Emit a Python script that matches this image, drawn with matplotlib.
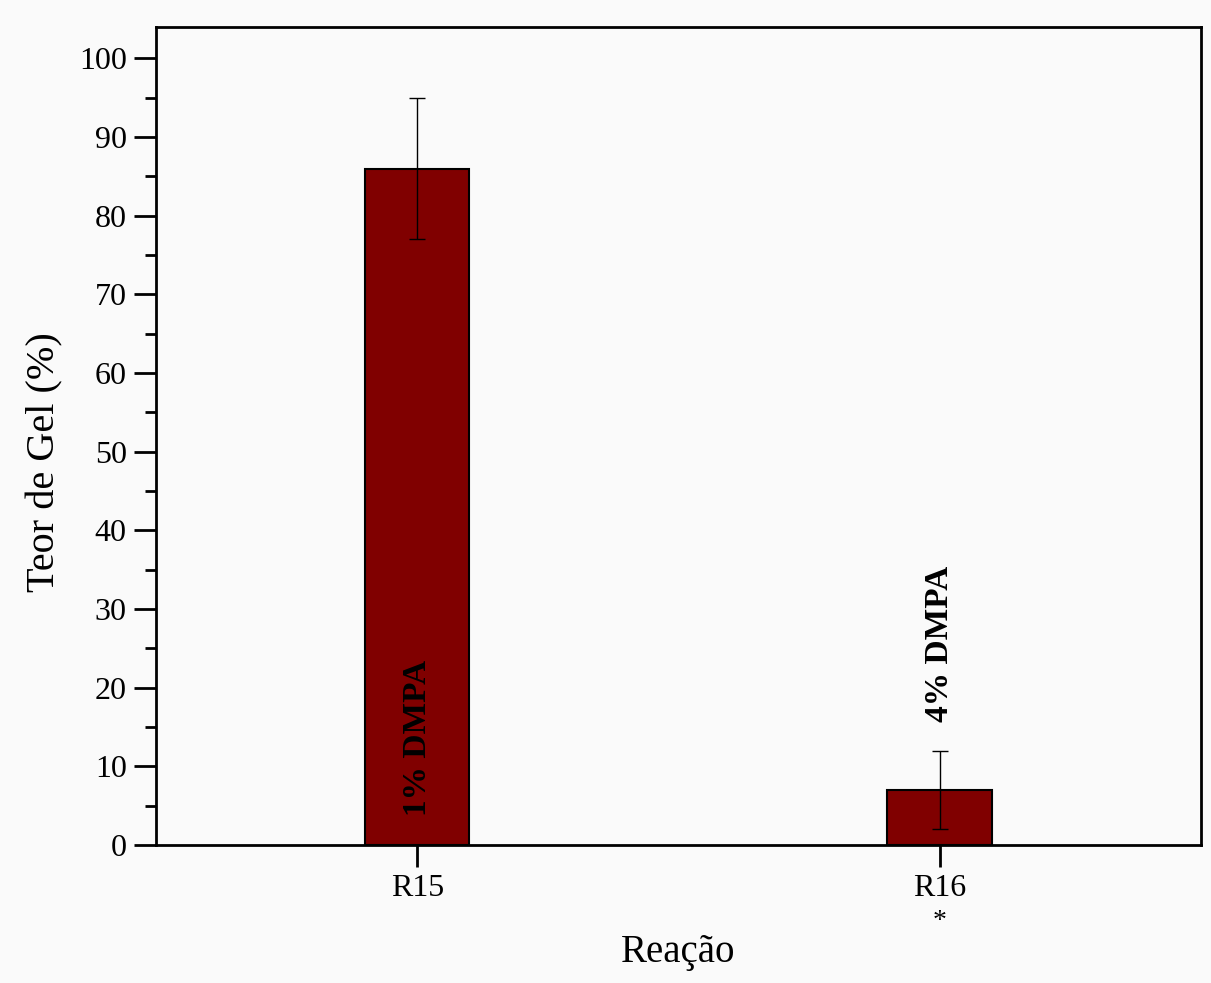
import numpy as np
import matplotlib.pyplot as plt
from matplotlib.ticker import MultipleLocator

# data
reacoes = ['R15', 'R16']
teor_gel = [86, 7]
erro = [9, 5]
notas = ['1% DMPA', '4% DMPA']

plt.rcParams['font.family'] = ['Liberation Serif', 'DejaVu Serif']
bg = '#fafafa'

fig = plt.figure(figsize=(12.11, 9.83), dpi=100, facecolor=bg)
ax = fig.add_axes([0.1288, 0.1404, 0.8629, 0.8321], facecolor=bg)

x = np.arange(1, len(reacoes) + 1)
ax.bar(x, teor_gel, width=0.2, color='#800000', edgecolor='black', linewidth=1.5, zorder=2)
ax.errorbar(x, teor_gel, yerr=erro, fmt='none', ecolor='black', elinewidth=1,
            capsize=6, capthick=1, zorder=3)

# labels on the bars
ax.text(x[0], 3.7, notas[0], rotation=90, ha='center', va='bottom',
        fontsize=24, fontweight='bold', zorder=4)
ax.text(x[1], teor_gel[1] + erro[1] + 3.65, notas[1], rotation=90, ha='center', va='bottom',
        fontsize=24, fontweight='bold', zorder=4)

ax.set_xlim(0.5, 2.5)
ax.set_ylim(0, 104)
ax.set_xticks(x)
ax.set_xticklabels(reacoes)
ax.yaxis.set_major_locator(MultipleLocator(10))
ax.yaxis.set_minor_locator(MultipleLocator(5))
ax.set_yticks(np.arange(0, 101, 10))
ax.tick_params(axis='y', which='major', direction='out', length=16, width=2, labelsize=23, pad=5)
ax.tick_params(axis='y', which='minor', direction='out', length=8, width=2)
ax.tick_params(axis='x', which='major', direction='out', length=16, width=2, labelsize=23, pad=5)
ax.tick_params(axis='x', which='minor', bottom=False)
for s in ax.spines.values():
    s.set_linewidth(2)

ax.text(x[1], -9.7, '*', ha='center', va='center', fontsize=20, clip_on=False)

ax.set_ylabel('Teor de Gel (%)', fontsize=29)
ax.yaxis.set_label_coords(-0.106, 0.468)
ax.set_xlabel('Reação', fontsize=28)
ax.xaxis.set_label_coords(0.5, -0.131)
ax.xaxis.label.set_va('center')
ax.yaxis.label.set_va('center')

fig.savefig('out.png', dpi=100, facecolor=bg)
